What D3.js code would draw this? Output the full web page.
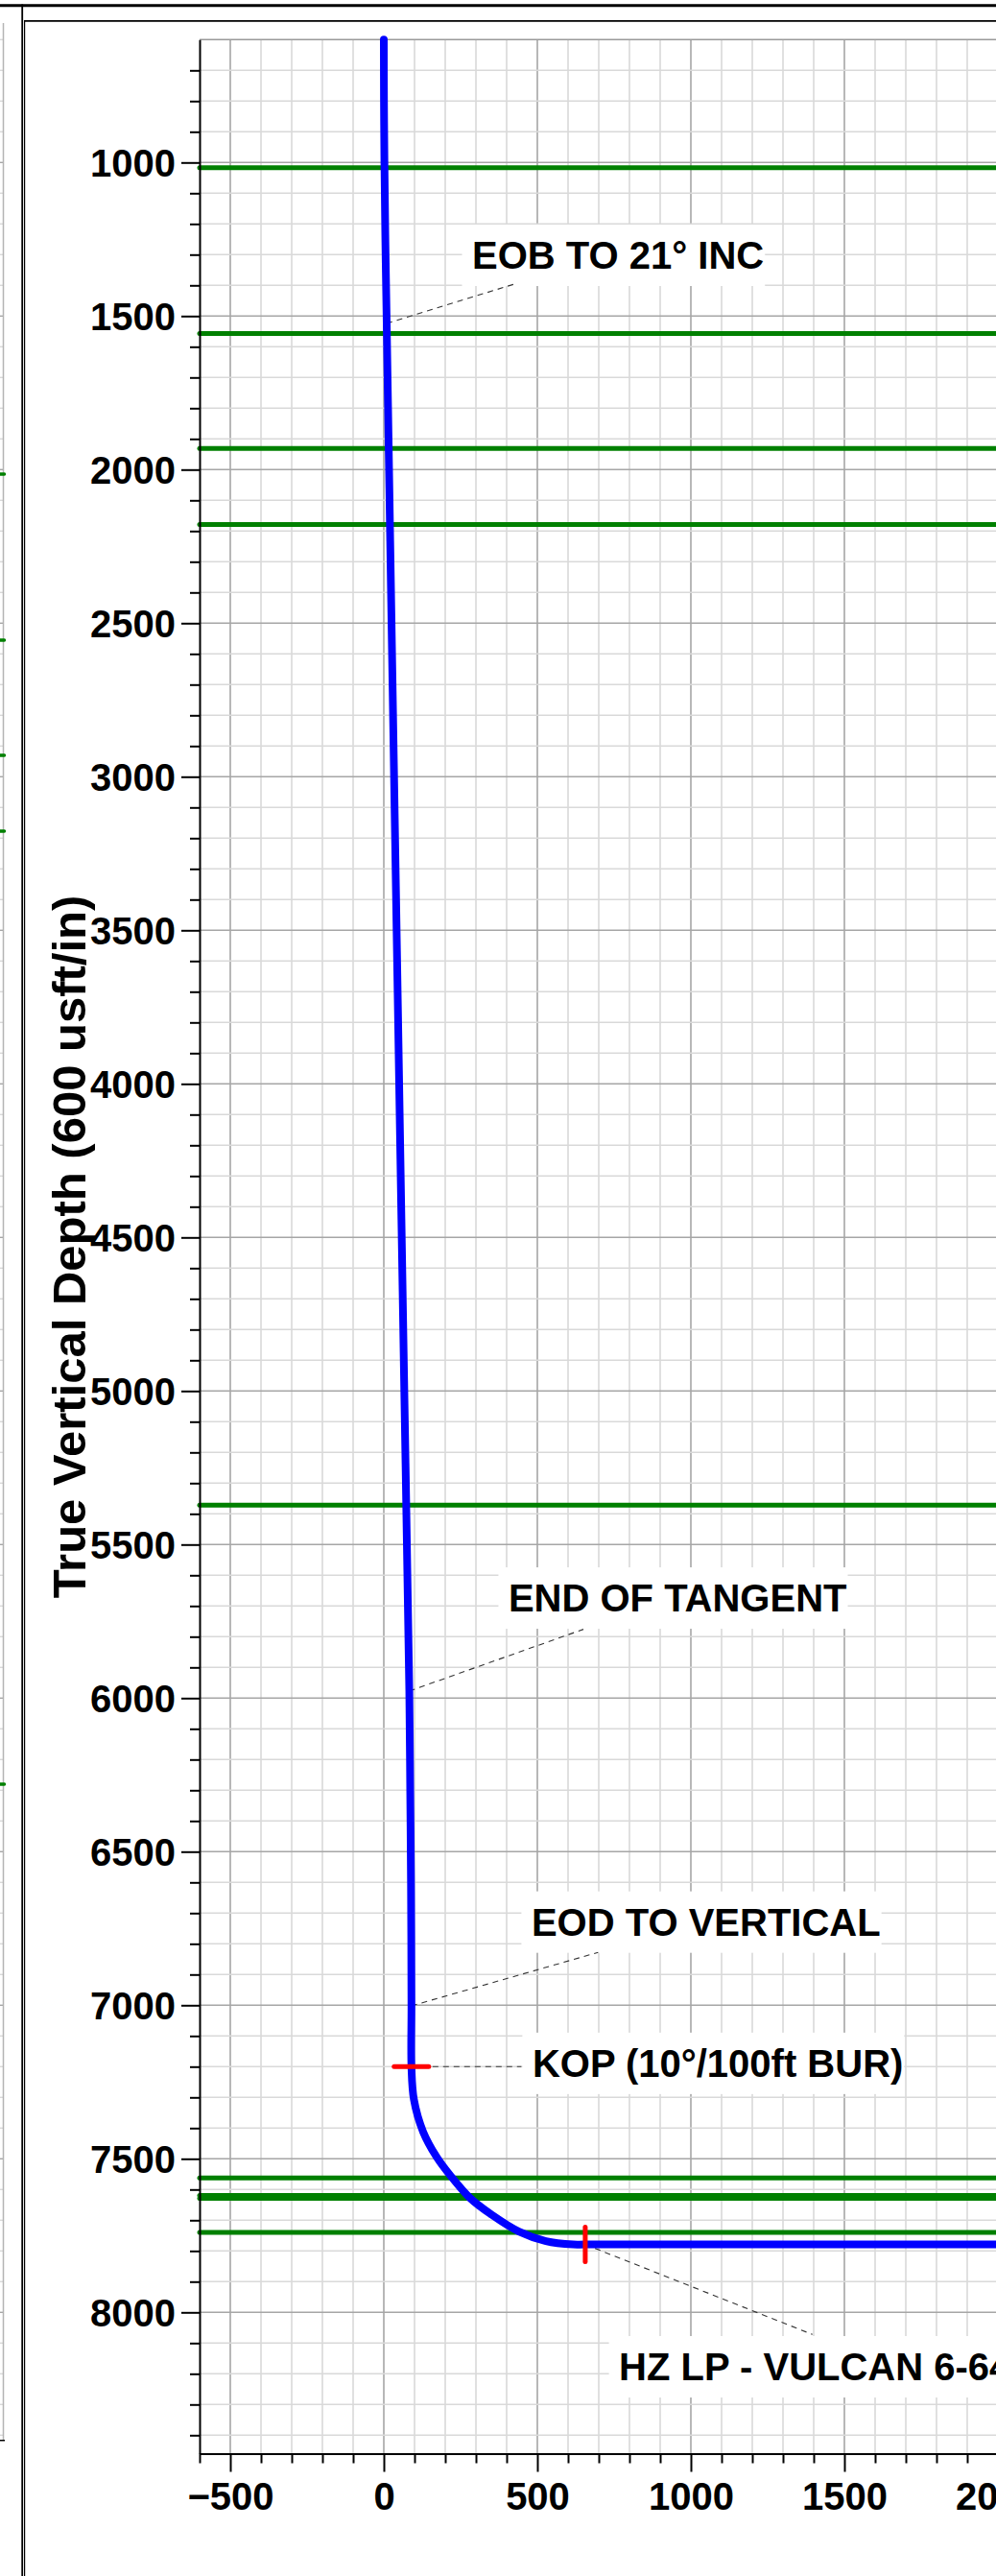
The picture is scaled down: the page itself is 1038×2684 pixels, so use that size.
<!DOCTYPE html>
<html><head><meta charset="utf-8">
<script src="https://cdn.jsdelivr.net/npm/d3@7"></script>
<style>
body{margin:0;background:#fff;}
svg{display:block;}
text{font-family:"Liberation Sans",Arial,Helvetica,sans-serif;font-weight:bold;fill:#000;}
</style>
</head><body>
<svg id="c" width="1038" height="2684"></svg>
<script>
// ---- data (vertical section, ft) ----
const pathVS  = [0, 0.5, 2, 5, 9.4, 24, 45, 65, 83, 86, 88.5, 90, 90, 98, 128, 172, 218, 281, 351, 440, 528, 617, 656, 2100];
const pathTVD = [600, 800, 1000, 1250, 1524, 2430, 3700, 4900, 5977, 6300, 6600, 7000, 7200, 7307, 7412, 7494, 7556, 7628, 7682, 7737, 7768, 7779, 7779, 7779];

const formationTVD = [1017, 1557, 1931, 2179, 5372, 7562, 7619, 7629, 7740];
const neighbourTopsTVD = [2015, 2555, 2930, 3177, 6280];

const xTicks = [-500, 0, 500, 1000, 1500, 2000];
const yTicks = [1000, 1500, 2000, 2500, 3000, 3500, 4000, 4500, 5000, 5500, 6000, 6500, 7000, 7500, 8000];

const annText = ["EOB TO 21° INC", "END OF TANGENT", "EOD TO VERTICAL", "KOP (10°/100ft BUR)", "HZ LP - VULCAN 6-64"];
const annPointVS  = [9.4, 83, 90, 90, 656];
const annPointTVD = [1524, 5977, 7002, 7200, 7779];
const annLeaderVS  = [425, 650, 698, 448, 1396];
const annLeaderTVD = [1396, 5776, 6828, 7200, 8072];
const annTextVS  = [287.5, 406, 481, 484, 766];
const annTextTVD = [1346, 5718, 6773, 7233, 8221];

const markerVS  = [90, 656];
const markerTVD = [7200, 7779];
const markerDir = ["h", "v"];

const yTitle = "True Vertical Depth (600 usft/in)";

// ---- drawing ----
const svg = d3.select("#c");
const x = d3.scaleLinear().domain([-600, 2100]).range([208, 1072]);
const y = d3.scaleLinear().domain([600, 8460]).range([41.3, 2556.5]);
const [x0] = x.range();
const [yTop, yBot] = y.range();
const xRight = 1040;

// frame
svg.append("line").attr("x1",0).attr("x2",1038).attr("y1",5.8).attr("y2",5.8).attr("stroke","#000").attr("stroke-width",3);
svg.append("line").attr("x1",23.2).attr("x2",23.2).attr("y1",4.5).attr("y2",2684).attr("stroke","#000").attr("stroke-width",1.8);
svg.append("line").attr("x1",25.6).attr("x2",25.6).attr("y1",21).attr("y2",2684).attr("stroke","#000").attr("stroke-width",1.2);
svg.append("line").attr("x1",25).attr("x2",1038).attr("y1",21.8).attr("y2",21.8).attr("stroke","#000").attr("stroke-width",1.8);

// neighbouring chart strip on the far left
const strip = svg.append("g");
d3.range(600, 8460, 100).forEach(v => {
  strip.append("line").attr("x1",0).attr("x2",3.5).attr("y1",y(v)).attr("y2",y(v))
    .attr("stroke", v % 500 === 0 ? "#a6a6a6" : "#d9d9d9").attr("stroke-width",1.4);
});
strip.append("line").attr("x1",3.5).attr("x2",3.5).attr("y1",24).attr("y2",y(8417)).attr("stroke","#b5b5b5").attr("stroke-width",1.5);
strip.append("line").attr("x1",0).attr("x2",5).attr("y1",y(8417)).attr("y2",y(8417)).attr("stroke","#000").attr("stroke-width",1.5);
strip.selectAll(".nt").data(neighbourTopsTVD).enter().append("line")
  .attr("x1",0).attr("x2",4.5).attr("y1",d=>y(d)).attr("y2",d=>y(d))
  .attr("stroke","#008000").attr("stroke-width",3.5).attr("stroke-linecap","round");

// grid
const grid = svg.append("g");
d3.range(-500, 2101, 100).forEach(v => {
  grid.append("line").attr("x1",x(v)).attr("x2",x(v)).attr("y1",yTop).attr("y2",yBot)
    .attr("stroke", v % 500 === 0 ? "#a6a6a6" : "#d9d9d9").attr("stroke-width",1.6);
});
d3.range(700, 8460, 100).forEach(v => {
  grid.append("line").attr("x1",x0).attr("x2",xRight).attr("y1",y(v)).attr("y2",y(v))
    .attr("stroke", v % 500 === 0 ? "#a6a6a6" : "#d9d9d9").attr("stroke-width",1.6);
});
grid.append("line").attr("x1",x0).attr("x2",xRight).attr("y1",yTop).attr("y2",yTop).attr("stroke","#9a9a9a").attr("stroke-width",1.6);

// formation tops
svg.append("g").selectAll("line").data(formationTVD).enter().append("line")
  .attr("x1",x0).attr("x2",xRight).attr("y1",d=>y(d)).attr("y2",d=>y(d))
  .attr("stroke","#008000").attr("stroke-width",5).attr("stroke-linecap","round");

// annotation boxes + text
const ann = svg.append("g");
annText.forEach((t,i) => {
  const tx = x(annTextVS[i]), ty = y(annTextTVD[i]);
  const g = ann.append("g");
  const rect = g.append("rect").attr("fill","#fff");
  const txt = g.append("text").attr("x",tx).attr("y",ty).attr("font-size",40).text(t);
  const w = txt.node().getComputedTextLength();
  rect.attr("x",tx-10.5).attr("y",ty-46).attr("width",w+11.5).attr("height",64);
});

// leader lines
annText.forEach((t,i) => {
  ann.append("line")
    .attr("x1",x(annPointVS[i])).attr("y1",y(annPointTVD[i]))
    .attr("x2",x(annLeaderVS[i])).attr("y2",y(annLeaderTVD[i]))
    .attr("stroke","#333").attr("stroke-width",1.1).attr("stroke-dasharray","6,5");
});

// well path
const line = d3.line().x((d,i)=>x(pathVS[i])).y((d,i)=>y(pathTVD[i])).curve(d3.curveCatmullRom.alpha(0.5));
svg.append("path").datum(pathVS).attr("d",line).attr("fill","none")
  .attr("stroke","#0000ff").attr("stroke-width",8).attr("stroke-linecap","round").attr("stroke-linejoin","round");

// red markers
markerVS.forEach((v,i) => {
  const cx = x(v), cy = y(markerTVD[i]), h = 18;
  svg.append("line")
    .attr("x1", markerDir[i]==="h" ? cx-h : cx).attr("x2", markerDir[i]==="h" ? cx+h : cx)
    .attr("y1", markerDir[i]==="h" ? cy : cy-h).attr("y2", markerDir[i]==="h" ? cy : cy+h)
    .attr("stroke","#ff0000").attr("stroke-width",5).attr("stroke-linecap","round");
});

// axes
function styleAxis(g){
  g.selectAll(".tick line").attr("stroke","#000").attr("stroke-width",2);
  g.selectAll(".domain").attr("stroke","#000").attr("stroke-width",2);
  g.selectAll("text").attr("font-size",40).attr("font-family",null).style("font-family",'"Liberation Sans",Arial,sans-serif').style("font-weight","bold").attr("fill","#000");
}
const yMinor = d3.range(700, 8401, 100).filter(v => v % 500 !== 0);
svg.append("g").attr("transform",`translate(${x0},0)`)
  .call(d3.axisLeft(y).tickValues(yMinor).tickSize(10).tickSizeOuter(0).tickFormat(""))
  .call(g=>{g.select(".domain").remove(); styleAxis(g);});
svg.append("g").attr("transform",`translate(${x0},0)`)
  .call(d3.axisLeft(y).tickValues(yTicks).tickSize(19).tickSizeOuter(0).tickPadding(6).tickFormat(d3.format("d")))
  .call(g=>{styleAxis(g); g.selectAll("text").attr("dy","0.36em");});

const xMinor = d3.range(-600, 2101, 100).filter(v => v % 500 !== 0);
svg.append("g").attr("transform",`translate(0,${yBot})`)
  .call(d3.axisBottom(x).tickValues(xMinor).tickSize(10).tickSizeOuter(0).tickFormat(""))
  .call(g=>{g.select(".domain").remove(); styleAxis(g);});
svg.append("g").attr("transform",`translate(0,${yBot})`)
  .call(d3.axisBottom(x).tickValues(xTicks).tickSize(19).tickSizeOuter(0).tickPadding(11).tickFormat(d3.format("d")))
  .call(styleAxis);

// y axis title
svg.append("text").attr("transform",`translate(89,${(yTop+yBot)/2}) rotate(-90)`)
  .attr("text-anchor","middle").attr("font-size",49).text(yTitle);
</script>
</body></html>
